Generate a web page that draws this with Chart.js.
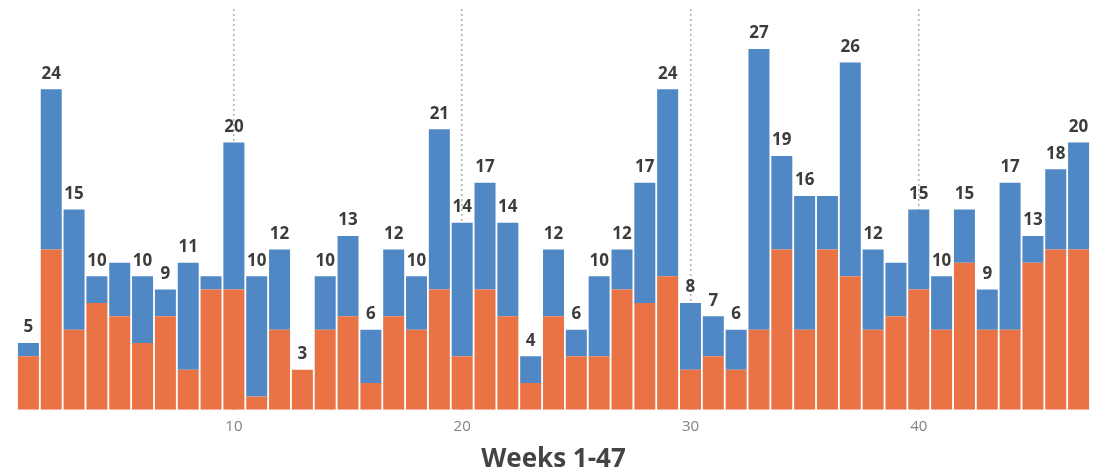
<!DOCTYPE html>
<html>
<head>
<meta charset="utf-8">
<script src="https://cdn.jsdelivr.net/npm/chart.js@4/dist/chart.umd.min.js"></script>
<style>
  html, body { margin: 0; padding: 0; background: #ffffff; }
  #wrap { width: 1094px; height: 475px; position: relative; }
</style>
</head>
<body>
<div id="wrap"><canvas id="c"></canvas></div>
<script>
// Weeks 1-47
const weeks = Array.from({length: 47}, (_, i) => i + 1);
// Bottom (orange) series
const orangeValues = [4,12,6,8,7,5,7,3,9,9,1,6,3,6,7,2,7,6,9,4,9,7,2,7,4,4,9,8,10,3,4,3,6,12,6,12,10,6,7,9,6,11,6,6,11,12,12];
// Top (blue) series
const blueValues   = [1,12,9,2,4,5,2,8,1,11,9,6,0,4,6,4,5,4,12,10,8,7,2,5,2,6,3,9,14,5,3,3,21,7,10,4,16,6,4,6,4,4,3,11,2,6,8];
// Weeks whose total label is not shown in the reference
const hiddenTotalWeeks = [5, 9, 36, 39];
// X tick labels
const xTicks = [10, 20, 30, 40];

const totals = weeks.map((w, i) => orangeValues[i] + blueValues[i]);

const totalLabels = {
  id: 'totalLabels',
  afterDatasetsDraw(chart) {
    const ctx = chart.ctx;
    const meta = chart.getDatasetMeta(1);
    ctx.save();
    ctx.font = 'bold 17px "Open Sans"';
    ctx.fillStyle = '#3c3c3c';
    ctx.textAlign = 'center';
    ctx.textBaseline = 'bottom';
    meta.data.forEach((bar, i) => {
      if (hiddenTotalWeeks.includes(weeks[i])) return;
      const y = chart.scales.y.getPixelForValue(totals[i]);
      ctx.fillText(String(totals[i]), bar.x, y - 7);
    });
    ctx.restore();
  }
};

new Chart(document.getElementById('c'), {
  type: 'bar',
  data: {
    datasets: [
      {
        label: 'Orange',
        data: weeks.map((w, i) => ({x: w, y: orangeValues[i]})),
        backgroundColor: '#E97345',
        borderWidth: 0
      },
      {
        label: 'Blue',
        data: weeks.map((w, i) => ({x: w, y: blueValues[i]})),
        backgroundColor: '#5088C6',
        borderWidth: 0
      }
    ]
  },
  options: {
    responsive: true,
    maintainAspectRatio: false,
    animation: false,
    barPercentage: 0.92,
    categoryPercentage: 1.0,
    layout: { padding: { left: 17, right: 4, top: 9, bottom: 0 } },
    plugins: {
      legend: { display: false },
      tooltip: { enabled: false }
    },
    scales: {
      x: {
        type: 'linear',
        stacked: true,
        offset: false,
        min: 0.5,
        max: 47.5,
        afterBuildTicks(axis) { axis.ticks = xTicks.map(v => ({value: v})); },
        grid: {
          display: true,
          offset: false,
          drawTicks: false,
          color: '#b0b0b0',
          lineWidth: 1.5
        },
        border: { display: false, dash: [2, 3] },
        ticks: {
          padding: 8,
          color: '#808080',
          font: { family: '"Open Sans"', size: 15 }
        },
        title: {
          display: true,
          text: 'Weeks 1-47',
          color: '#444444',
          font: { family: '"Open Sans"', size: 26, weight: 'bold' },
          padding: { top: 0, bottom: 0 }
        }
      },
      y: {
        stacked: true,
        display: false,
        min: 0,
        max: 30
      }
    }
  },
  plugins: [totalLabels]
});
</script>
</body>
</html>
